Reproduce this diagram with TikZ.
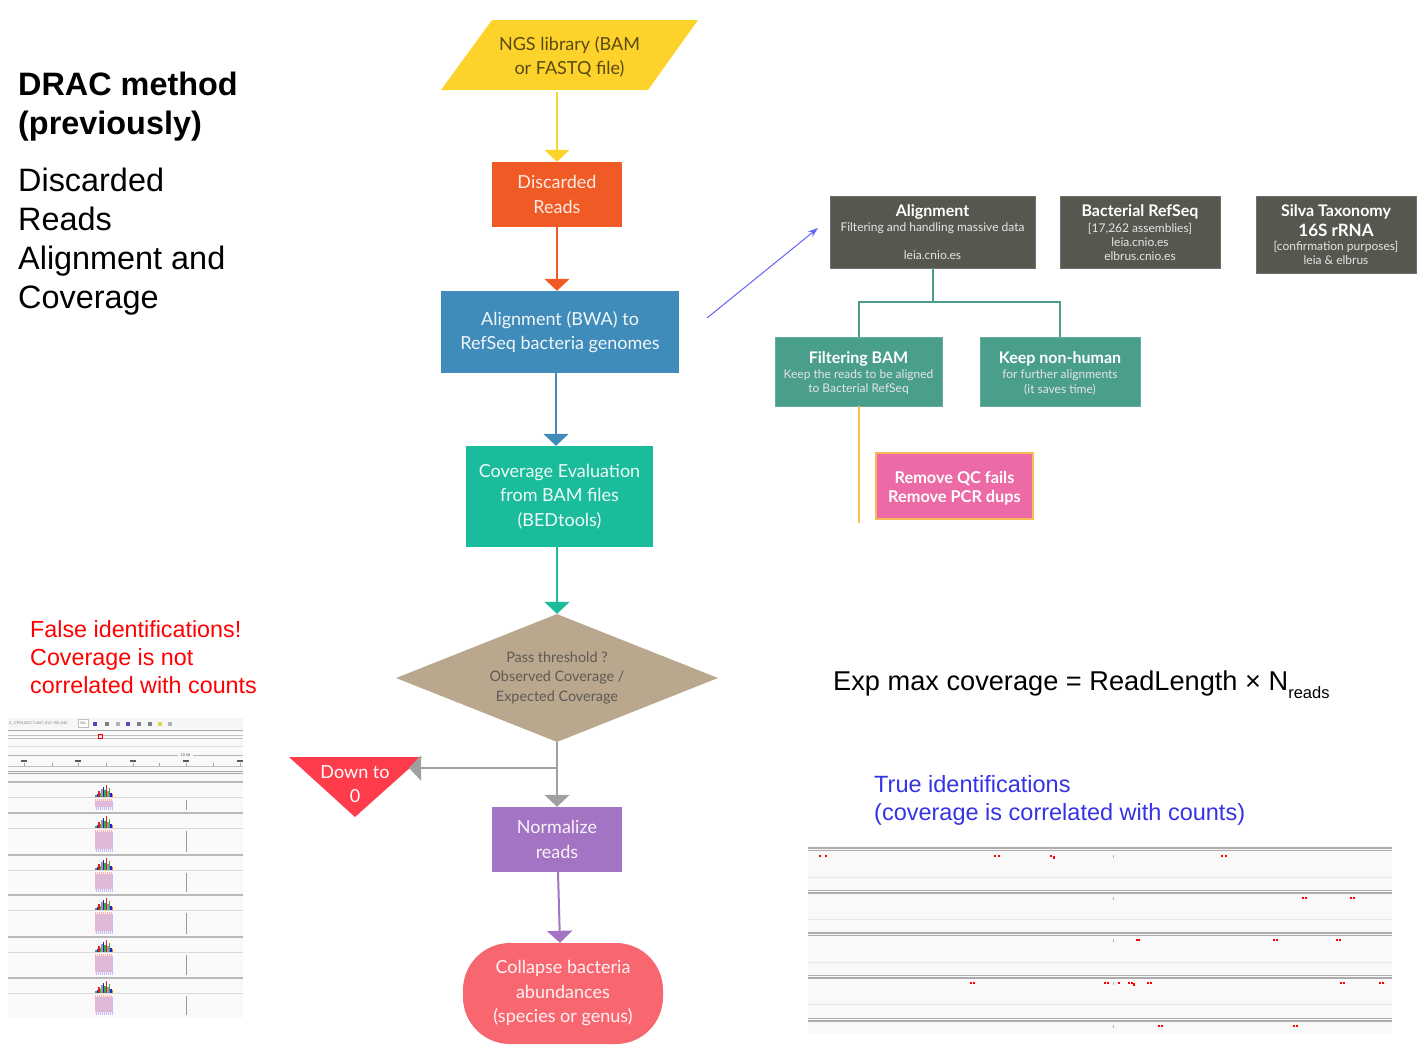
\documentclass[tikz,border=0pt]{standalone}
\usepackage{fontspec}
\setmainfont{Liberation Sans}
\newfontfamily\lato{Lato}
\usetikzlibrary{arrows.meta,shapes.geometric}
\definecolor{cYel}{HTML}{FCD22B}
\definecolor{cYelTxt}{HTML}{5A4A14}
\definecolor{cOr}{HTML}{F05A25}
\definecolor{cBlue}{HTML}{3F8BBA}
\definecolor{cTeal}{HTML}{1BBC9B}
\definecolor{cTan}{HTML}{B9A78E}
\definecolor{cTanTxt}{HTML}{5E5A55}
\definecolor{cGrayA}{HTML}{A0A0A0}
\definecolor{cPurp}{HTML}{A374C3}
\definecolor{cCoral}{HTML}{F86670}
\definecolor{cRedT}{HTML}{FF3C4B}
\definecolor{cDark}{HTML}{58574F}
\definecolor{cGreen}{HTML}{4A9E8C}
\definecolor{cPink}{HTML}{EC6AA5}
\definecolor{cOrLine}{HTML}{F8BA57}
\definecolor{cBA}{HTML}{6464F5}
\definecolor{cBlueTxt}{HTML}{3434E6}
\definecolor{cBg}{HTML}{F9F9F9}
\definecolor{cHg}{HTML}{35B040}
\definecolor{cHb}{HTML}{2020E0}
\definecolor{cHr}{HTML}{E02020}
\definecolor{cHo}{HTML}{E08A20}
\definecolor{cHk}{HTML}{9A9A9A}
\tikzset{
  fbox/.style={inner sep=0pt, align=center, font=\lato\fontsize{18}{24.5}\selectfont},
  darr/.style={line width=2pt, -{Triangle[width=25pt,length=12pt]}},
  sml/.style={inner sep=0pt, font=\lato\fontsize{12}{13}\selectfont, text=white!90!black},
  ttl/.style={inner sep=0pt, font=\lato\bfseries\fontsize{16}{17}\selectfont, text=white},
  pbox/.style={inner sep=0pt, draw=white!15!cDark, line width=0.6pt},
}
\begin{document}
\begin{tikzpicture}[x=1pt,y=-1pt]
\useasboundingbox (0,0) rectangle (1428,1061);
\fill[white] (0,0) rectangle (1428,1061);

% ---------- left texts ----------
\node[anchor=base west, inner sep=0pt, align=left, font=\bfseries\fontsize{32.4}{39}\selectfont] (title) at (18,134) {DRAC method\\(previously)};
\node[anchor=base west, inner sep=0pt, align=left, font=\fontsize{32.4}{39}\selectfont] (sub) at (18,308.5) {Discarded\\Reads\\Alignment and\\Coverage};
\node[anchor=base west, inner sep=0pt, align=left, text=red, font=\fontsize{23.3}{28}\selectfont] (false) at (30,693) {False identifications!\\Coverage is not\\correlated with counts};

% ---------- main flowchart ----------
\fill[cYel] (492,20) -- (698,20) -- (648,90) -- (441,90) -- cycle;
\node[fbox, text=cYelTxt, minimum width=207pt, minimum height=70pt] (ngs) at (569.5,57) {NGS library (BAM\\or FASTQ file)};

\node[fbox, fill=cOr, text=cOr!12!white, minimum width=130pt, minimum height=65pt] (disc) at (557,194.5) {\raisebox{-1pt}{Discarded}\\\raisebox{-1pt}{Reads}};
\node[fbox, fill=cBlue, text=cBlue!8!white, minimum width=238pt, minimum height=82pt] (align) at (560,332) {\raisebox{-1.5pt}{Alignment (BWA) to}\\\raisebox{-1.5pt}{RefSeq bacteria genomes}};
\node[fbox, fill=cTeal, text=cTeal!8!white, minimum width=187pt, minimum height=101pt] (cov) at (559.5,496.5) {\raisebox{-1.5pt}{Coverage Evaluation}\\\raisebox{-1.5pt}{from BAM files}\\\raisebox{-1.5pt}{(BEDtools)}};
\node[shape=diamond, aspect=2.5, fill=cTan, inner sep=0pt, minimum width=322pt, minimum height=128pt, align=center, text=cTanTxt, font=\lato\fontsize{14.4}{19.5}\selectfont] (dia) at (557,678) {\raisebox{-1.5pt}{Pass threshold ?}\\\raisebox{-1.5pt}{Observed Coverage /}\\\raisebox{-1.5pt}{Expected Coverage}};
\fill[cRedT] (289,757) -- (422,757) -- (355,817) -- cycle;
\node[fbox, text=white] (down) at (355,784) {Down to\\0};
\node[fbox, fill=cPurp, text=cPurp!8!white, minimum width=130pt, minimum height=65pt] (norm) at (557,839.5) {\raisebox{-1pt}{Normalize}\\\raisebox{-1pt}{reads}};
\node[fbox, fill=cCoral, text=cCoral!8!white, rounded corners=47pt, minimum width=200pt, minimum height=101pt] (coll) at (563,993.5) {\raisebox{-1.5pt}{Collapse bacteria}\\\raisebox{-1.5pt}{abundances}\\\raisebox{-1.5pt}{(species or genus)}};

\draw[darr, cYel] (ngs.south -| disc.north) -- (disc.north);
\draw[darr, cOr] (disc.south) -- (align.north -| disc.south);
\draw[darr, cBlue] (align.south -| 556,0) -- (cov.north -| 556,0);
\draw[darr, cTeal] (cov.south -| dia.north) -- (dia.north);
\draw[darr, cGrayA] (dia.south) -- (norm.north);
\coordinate (br) at (557,768);
\coordinate (downtip) at (409,768);
\draw[darr, cGrayA] (br) -- (downtip);
\draw[darr, cPurp] (norm.south -| 558,0) -- (coll.north -| 560,0);

% blue thin arrow
\coordinate (ba1) at (707,318);
\coordinate (ba2) at (818,228);
\draw[cBA, line width=1pt, -{Stealth[length=10pt,width=7pt]}] (ba1) -- (ba2);

% ---------- right-top boxes ----------
\node[pbox, fill=cDark, minimum width=205pt, minimum height=72pt] (alB) at (932.5,232) {};
\node[ttl] (alB1) at (932.5,211.5) {Alignment};
\node[sml] (alB2) at (932.5,228.5) {Filtering and handling massive data};
\node[sml] (alB3) at (932.5,255.5) {leia.cnio.es};

\node[pbox, fill=cDark, minimum width=160pt, minimum height=72pt] (rs) at (1140,232) {};
\node[ttl] (rs1) at (1140,211.5) {Bacterial RefSeq};
\node[sml] (rs2) at (1140,228.5) {[17,262 assemblies]};
\node[sml] (rs3) at (1140,242.5) {leia.cnio.es};
\node[sml] (rs4) at (1140,256.5) {elbrus.cnio.es};

\node[pbox, fill=cDark, minimum width=160pt, minimum height=77pt] (sil) at (1336,234.5) {};
\node[ttl] (sil1) at (1336,211.5) {Silva Taxonomy};
\node[ttl, font=\lato\bfseries\fontsize{17}{18}\selectfont] (sil2) at (1336,230.5) {16S rRNA};
\node[sml] (sil3) at (1336,246.5) {[confirmation purposes]};
\node[sml] (sil4) at (1336,260.5) {leia \& elbrus};

\node[pbox, draw=white!15!cGreen, fill=cGreen, minimum width=167pt, minimum height=69pt] (fb) at (858.5,371.5) {};
\node[ttl] (fb1) at (858.5,358.5) {Filtering BAM};
\node[sml] (fb2) at (858.5,375.5) {Keep the reads to be aligned};
\node[sml] (fb3) at (858.5,389.5) {to Bacterial RefSeq};

\node[pbox, draw=white!15!cGreen, fill=cGreen, minimum width=160pt, minimum height=69pt] (kn) at (1060,371.5) {};
\node[ttl] (kn1) at (1060,358.5) {Keep non-human};
\node[sml] (kn2) at (1060,375.5) {for further alignments};
\node[sml] (kn3) at (1060,389.5) {(it saves time)};

\coordinate (j) at (932.5,302);
\draw[cGreen, line width=2pt] (alB.south) -- (j);
\draw[cGreen, line width=2pt] (fb.north) |- (j) -| (kn.north);

\coordinate (oend) at (858.5,523);
\draw[cOrLine, line width=2pt] (fb.south) -- (oend);

\node[inner sep=0pt, fill=cPink, draw=cOrLine, line width=2pt, minimum width=157pt, minimum height=66pt] (qc) at (954.5,486) {};
\node[ttl, align=center, font=\lato\bfseries\fontsize{16.3}{19}\selectfont] (qc1) at (954.5,488) {Remove QC fails\\Remove PCR dups};

% ---------- formula and true text ----------
\node[anchor=base west, inner sep=0pt, font=\fontsize{27.2}{30}\selectfont] (formula) at (833,690) {Exp max coverage = ReadLength × N{\fontsize{16.5}{16}\selectfont\raisebox{-8pt}{reads}}};
\node[anchor=base west, inner sep=0pt, align=left, text=cBlueTxt, font=\fontsize{23.5}{28}\selectfont] (true) at (874,820) {True identifications\\(coverage is correlated with counts)};

% ---------- left IGV screenshot ----------
\fill[cBg] (8,718) rectangle (243,1018);
\fill[gray!7] (8,718) rectangle (243,729);
\node[anchor=west, inner sep=0pt, text=gray, font=\fontsize{4}{4}\selectfont] (igvloc) at (9,723.5) {Z\_CP012027.1:687,013-705,044};
\draw[gray!50, fill=white] (78,719.5) rectangle (88,727.5);
\node[inner sep=0pt, text=gray!80!black, font=\fontsize{4}{4}\selectfont] (igvgo) at (83,723.5) {Go};
\foreach \x/\c in {93/blue!40!gray,105/gray,116/gray!60,126/blue!40!gray,137/gray,148/gray,158/yellow!70!gray,168/gray!60}
  \fill[\c] (\x,721.5) rectangle ++(4,4);
\draw[gray!70, line width=1pt] (8,730) -- (243,730);
\draw[gray!50] (8,735) -- (243,735);
\draw[gray!50] (8,738) -- (243,738);
\draw[red, line width=0.8pt] (98,734.5) rectangle (102,738.5);
\draw[gray!25] (8,746) -- (243,746);
\draw[gray!60] (8,755) -- (178,755);
\draw[gray!60] (193,755) -- (243,755);
\node[inner sep=0pt, text=gray!70!black, font=\fontsize{4}{4}\selectfont] (kb) at (185.5,755) {10 kb};
\foreach \x in {24,78,133,186,240} \fill[gray!70!black] (\x-3,760) rectangle ++(6,1.5);
\foreach \x in {24,52,78,106,133,159,186,213,240} \draw[gray!70] (\x,762.5) -- (\x,766);
\draw[gray!50] (8,766) -- (243,766);
\draw[gray!70, line width=1pt] (8,771) -- (243,771);
\draw[gray!70, line width=1pt] (8,773.5) -- (243,773.5);
\foreach \ct/\cb/\rb in {782/797/813, 813/828/855, 855/870/895, 895/910/937, 937/952/978, 978/993/1018} {
  \fill[gray!55] (8,\ct-1) rectangle (243,\ct+1);
  \draw[gray!30] (8,\cb) -- (243,\cb);
  \foreach \x/\h/\c in {95/2/cHg,96.5/3/cHb,98/6/cHr,99.5/4/cHg,101/8/cHk,102.5/10/cHb,104/7/cHg,105.5/12/cHr,107/6/cHk,108.5/9/cHg,110/4/cHb,111.5/3/cHo}
    \fill[\c] (\x,\cb-0.5) rectangle ++(1.5,-\h);
  \fill[red!6] (95,\cb+1.5) rectangle (113,\rb-3);
  \foreach \x in {95.5,97.5,99.5,101.5,103.5,105.5,107.5,109.5,111.5}
    \draw[red!30, line width=0.5pt] (\x,\cb+1.5) -- (\x,\rb-6);
  \foreach \x in {96.5,98.5,100.5,102.5,104.5,106.5,108.5,110.5,112.5}
    \draw[blue!25, line width=0.5pt] (\x,\cb+4) -- (\x,\rb-3);
  \draw[gray!80, line width=0.7pt] (186,\cb+3) -- (186,\rb-3);
}

% ---------- right screenshot ----------
\fill[cBg] (808,846) rectangle (1392,1034);
\foreach \y in {848,890.5,933,975.5,1018.5} {
  \draw[gray!65, line width=1.2pt] (808,\y) -- (1392,\y);
  \draw[gray!65, line width=1.2pt] (808,\y+2.5) -- (1392,\y+2.5);
}
\foreach \y in {877.5,919.5,962,1004.5} \draw[gray!18, line width=1pt] (808,\y) -- (1392,\y);
\foreach \x/\y in {820/856,826/856,995/856,999/856,1051/856,1054/857.5,1222/856,1226/856,
  1303/898,1306/898,1351/898,1354/898,
  1137/940,1139/940,1274/940,1277/940,1337/940,1340/940,
  971/983,974/983,1105/983,1108/983,1119/983,1129/983,1132/983,1134/984.5,1148/983,1151/983,1341/983,1344/983,1380/983,1383/983,
  1159/1026,1162/1026,1294/1026,1297/1026}
  \fill[red] (\x-1.2,\y-1.2) rectangle ++(2.4,2.4);
\foreach \y in {856,898,940,983,1026} \fill[gray!60] (1112.5,\y-1.5) rectangle ++(1,3);
\end{tikzpicture}
\end{document}
